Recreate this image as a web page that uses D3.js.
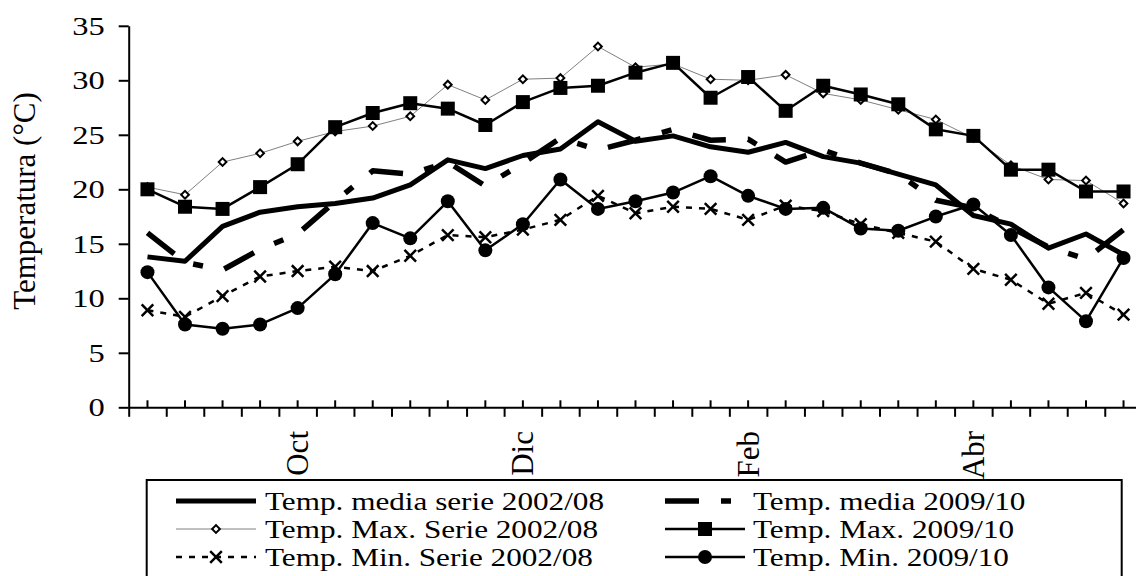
<!DOCTYPE html>
<html>
<head>
<meta charset="utf-8">
<script src="https://cdn.jsdelivr.net/npm/d3@7"></script>
<style>
  body { margin: 0; background: #fff; }
  svg text { font-family: "Liberation Serif", "Times New Roman", serif; fill: #000; }
</style>
</head>
<body>
<svg id="chart"></svg>
<script>
// ten-day periods, Sep -> May
const periods = d3.range(27);
const monthLabels = ["Oct", "Dic", "Feb", "Abr"];
const monthIndex = [4, 10, 16, 22];
const yTicks = [0, 5, 10, 15, 20, 25, 30, 35];

const seriesNames = [
    "Temp. media serie 2002/08",
    "Temp. media 2009/10",
    "Temp. Max. Serie 2002/08",
    "Temp. Max. 2009/10",
    "Temp. Min. Serie 2002/08",
    "Temp. Min. 2009/10"
];

const mediaSerie = [13.8, 13.4, 16.6, 17.9, 18.4, 18.7, 19.2, 20.4, 22.7, 21.9, 23.1, 23.7, 26.2, 24.4,
    24.9, 23.9, 23.4, 24.3, 23.0, 22.4, 21.4, 20.4, 17.6, 16.8, 14.6, 15.9, 14.0];
const media0910 = [16.0, 13.3, 12.6, 14.5, 15.9, 18.9, 21.7, 21.4, 22.5, 20.3, 22.4, 24.7, 23.6, 24.5,
    25.5, 24.5, 24.6, 22.5, 23.6, 22.4, 21.4, 19.0, 18.3, 16.5, 14.7, 13.6, 16.3];
const maxSerie = [20.2, 19.5, 22.5, 23.3, 24.4, 25.3, 25.8, 26.7, 29.6, 28.2, 30.1, 30.2, 33.1, 31.2,
    31.5, 30.1, 30.0, 30.5, 28.8, 28.2, 27.3, 26.4, 24.7, 22.2, 20.9, 20.8, 18.7];
const max0910 = [20.0, 18.4, 18.2, 20.2, 22.3, 25.7, 27.0, 27.9, 27.4, 25.9, 28.0, 29.3, 29.5, 30.7,
    31.6, 28.4, 30.3, 27.2, 29.5, 28.7, 27.8, 25.5, 24.9, 21.8, 21.8, 19.8, 19.8];
const minSerie = [8.9, 8.3, 10.2, 12.0, 12.5, 12.9, 12.5, 13.9, 15.8, 15.6, 16.3, 17.2, 19.4, 17.8,
    18.4, 18.2, 17.2, 18.5, 18.0, 16.8, 16.0, 15.2, 12.7, 11.7, 9.5, 10.5, 8.5];
const min0910 = [12.4, 7.6, 7.2, 7.6, 9.1, 12.2, 16.9, 15.5, 18.9, 14.4, 16.8, 20.9, 18.2, 18.9,
    19.7, 21.2, 19.4, 18.2, 18.3, 16.4, 16.2, 17.5, 18.6, 15.8, 11.0, 7.9, 13.7];

const width = 1136, height = 576;
const svg = d3.select("#chart")
    .attr("width", width)
    .attr("height", height)
    .attr("viewBox", [0, 0, width, height]);

// scales
const x_scale = d3.scaleBand().domain(periods).range([128.7, 1142.3]).padding(0);
const bw = x_scale.bandwidth();
const xc = i => x_scale(i) + bw / 2;
const edge_scale = d3.scaleLinear().domain([0, periods.length]).range(x_scale.range());
const y_scale = d3.scaleLinear().domain([0, 35]).range([407.3, 25.8]);

// y axis
const gY = svg.append("g")
    .attr("transform", "translate(128.7,0)")
    .call(d3.axisLeft(y_scale).tickValues(yTicks).tickSize(10).tickSizeOuter(0));
gY.select(".domain").attr("stroke-width", 2);
gY.selectAll(".tick line").attr("stroke-width", 2);
gY.selectAll(".tick text")
    .attr("font-size", 25)
    .attr("x", 0)
    .attr("dy", "0.34em")
    .attr("text-anchor", "end")
    .attr("transform", "translate(-24,0) scale(1.3,1)");

// x axis: ticks at each point (up) and at each period edge (down)
const gXc = svg.append("g")
    .attr("transform", "translate(0,407.3)")
    .call(d3.axisTop(x_scale).tickSize(7).tickFormat(""));
gXc.select(".domain").remove();
gXc.selectAll(".tick line").attr("stroke-width", 2);

const gXe = svg.append("g")
    .attr("transform", "translate(0,407.3)")
    .call(d3.axisBottom(edge_scale).tickValues(d3.range(0, periods.length + 1)).tickSize(9.5).tickSizeOuter(0).tickFormat(""));
gXe.select(".domain").attr("stroke-width", 2);
gXe.selectAll(".tick line").attr("stroke-width", 2);

monthLabels.forEach((m, k) => {
    svg.append("text")
        .attr("transform", `translate(${xc(monthIndex[k]) + 10.5},431) rotate(-90)`)
        .attr("text-anchor", "end")
        .attr("font-size", 31)
        .text(m);
});

// y title
svg.append("text")
    .attr("transform", "translate(35,201) rotate(-90)")
    .attr("text-anchor", "middle")
    .attr("font-size", 31)
    .text("Temperatura (°C)");

// series styles
const series = [
    { name: seriesNames[0], values: mediaSerie, stroke: "#000", sw: 5, dash: null, marker: null },
    { name: seriesNames[1], values: media0910, stroke: "#000", sw: 5.5, dash: "34,22,10,22", marker: null },
    { name: seriesNames[2], values: maxSerie, stroke: "#808080", sw: 1, dash: null, marker: "diamond" },
    { name: seriesNames[3], values: max0910, stroke: "#000", sw: 2.5, dash: null, marker: "square" },
    { name: seriesNames[4], values: minSerie, stroke: "#000", sw: 2.5, dash: "6,7", marker: "x" },
    { name: seriesNames[5], values: min0910, stroke: "#000", sw: 2.5, dash: null, marker: "circle" }
];

function drawMarker(g, type) {
    if (type === "diamond") {
        g.append("path").attr("d", d3.symbol(d3.symbolSquare, 30)())
            .attr("transform", "rotate(45)")
            .attr("fill", "#fff").attr("stroke", "#000").attr("stroke-width", 2);
    } else if (type === "square") {
        g.append("path").attr("d", d3.symbol(d3.symbolSquare, 196)()).attr("fill", "#000");
    } else if (type === "circle") {
        g.append("circle").attr("r", 7).attr("fill", "#000");
    } else if (type === "x") {
        g.append("path").attr("d", "M-5.8,-5.8L5.8,5.8M-5.8,5.8L5.8,-5.8")
            .attr("stroke", "#000").attr("stroke-width", 2.5).attr("fill", "none");
    }
}

const line = d3.line().x((d, i) => xc(i)).y(d => y_scale(d));

series.forEach(s => {
    const g = svg.append("g");
    g.append("path")
        .attr("d", line(s.values))
        .attr("fill", "none")
        .attr("stroke", s.stroke)
        .attr("stroke-width", s.sw)
        .attr("stroke-dasharray", s.dash)
        .attr("stroke-linejoin", "round");
    if (s.marker) {
        s.values.forEach((v, i) => {
            const m = g.append("g").attr("transform", `translate(${xc(i)},${y_scale(v)})`);
            drawMarker(m, s.marker);
        });
    }
});

// legend
const legend = svg.append("g");
legend.append("rect")
    .attr("x", 146.7).attr("y", 480)
    .attr("width", 975).attr("height", 130)
    .attr("fill", "#fff").attr("stroke", "#000").attr("stroke-width", 2);

const colSym = [176, 665], colText = [265, 753], rowY = [501, 529, 557];
series.forEach((s, k) => {
    const cx = colSym[k % 2], cy = rowY[Math.floor(k / 2)];
    legend.append("line")
        .attr("x1", cx).attr("x2", cx + 80)
        .attr("y1", cy).attr("y2", cy)
        .attr("stroke", s.stroke)
        .attr("stroke-width", s.sw)
        .attr("stroke-dasharray", s.dash);
    if (s.marker) {
        const m = legend.append("g").attr("transform", `translate(${cx + 40},${cy})`);
        drawMarker(m, s.marker);
    }
    legend.append("text")
        .attr("transform", `translate(${colText[k % 2]},${cy + 9}) scale(1.2,1)`)
        .attr("font-size", 26)
        .text(s.name);
});
</script>
</body>
</html>
